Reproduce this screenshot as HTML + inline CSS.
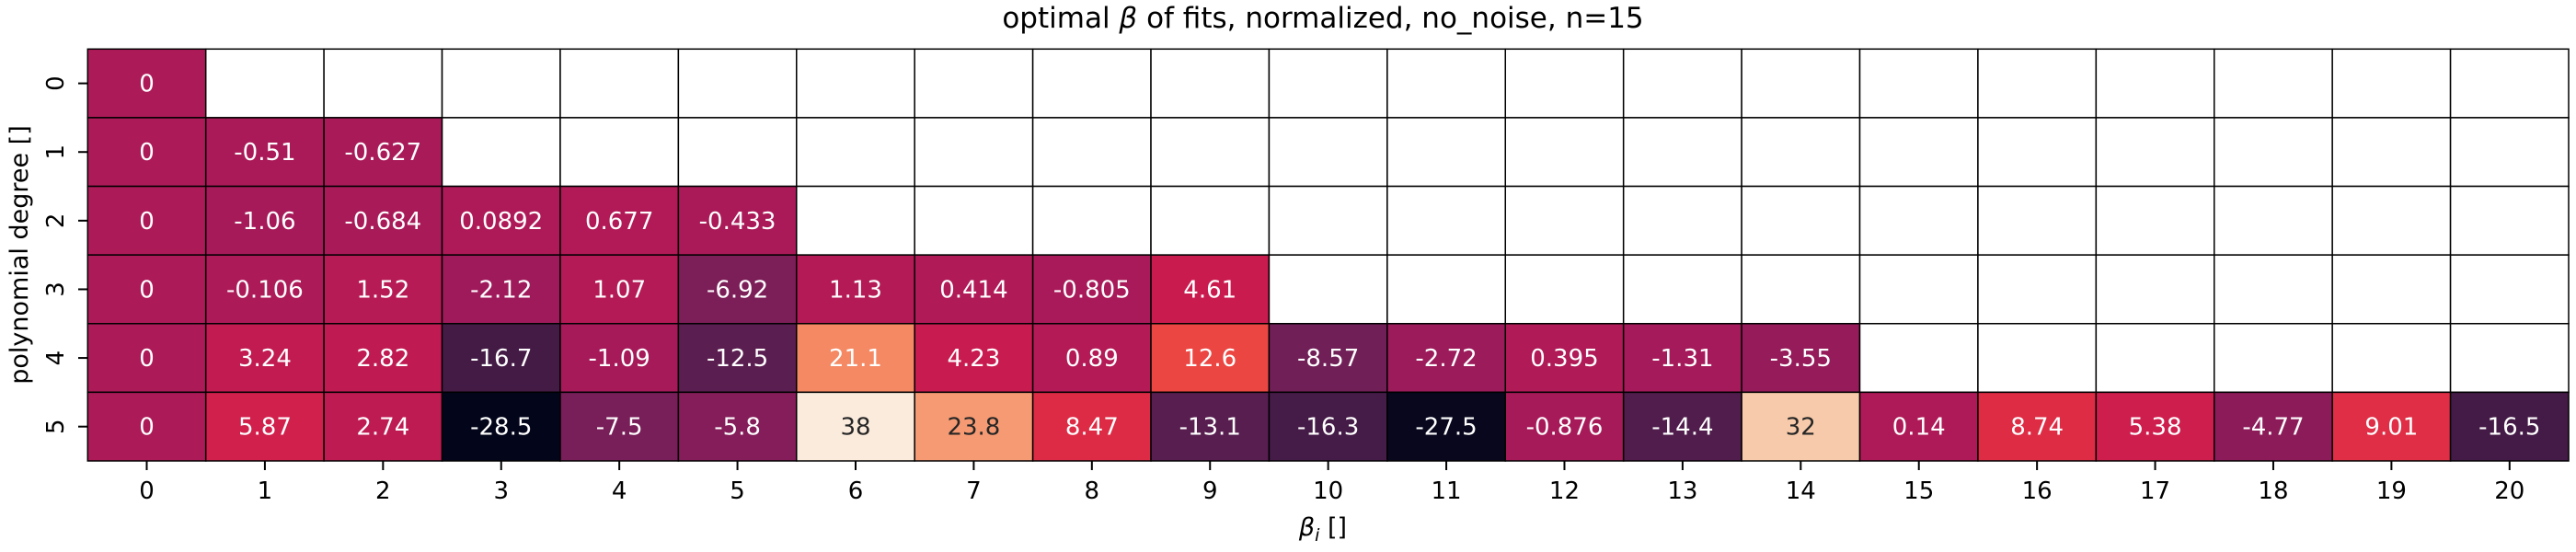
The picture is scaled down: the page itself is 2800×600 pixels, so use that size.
<!DOCTYPE html>
<html><head><meta charset="utf-8"><style>
body{margin:0;background:#fff}
svg{display:block;font-family:"DejaVu Sans","Liberation Sans",sans-serif}
</style></head><body>
<svg id="chart" width="2800" height="600" xmlns="http://www.w3.org/2000/svg">
<text x="1438" y="30" text-anchor="middle" font-size="31">optimal <tspan font-style="italic">β</tspan> of fits, normalized, no_noise, n=15</text>
<text x="1438" y="582" text-anchor="middle" font-size="27"><tspan font-style="italic">β</tspan><tspan font-style="italic" font-size="19" dy="6">i</tspan><tspan dy="-6"> []</tspan></text>
<text transform="translate(30,277) rotate(-90)" text-anchor="middle" font-size="27">polynomial degree []</text>
<g id="cells"></g><g id="ticks"></g>
</svg>
<script>
const rowLabels = ["0","1","2","3","4","5"];
const colLabels = ["0","1","2","3","4","5","6","7","8","9","10","11","12","13","14","15","16","17","18","19","20"];
const row0 = [0];
const row1 = [0,-0.51,-0.627];
const row2 = [0,-1.06,-0.684,0.0892,0.677,-0.433];
const row3 = [0,-0.106,1.52,-2.12,1.07,-6.92,1.13,0.414,-0.805,4.61];
const row4 = [0,3.24,2.82,-16.7,-1.09,-12.5,21.1,4.23,0.89,12.6,-8.57,-2.72,0.395,-1.31,-3.55];
const row5 = [0,5.87,2.74,-28.5,-7.5,-5.8,38,23.8,8.47,-13.1,-16.3,-27.5,-0.876,-14.4,32,0.14,8.74,5.38,-4.77,9.01,-16.5];
const rows = [row0,row1,row2,row3,row4,row5];

const L=95.3, T=53.3, CW=(2792-95.3)/21, RH=(501-53.3)/6;
const xPos = i => L + i*CW;
const yPos = j => T + j*RH;
const all = rows.flat();
const vmin = Math.min(...all), vmax = Math.max(...all);
const stops=[[0,[3,5,26]],[.1,[35,19,50]],[.2,[76,29,75]],[.3,[112,31,87]],[.4,[161,26,91]],[.5,[203,27,79]],[.55,[220,41,70]],[.6,[232,58,65]],[.65,[240,90,67]],[.7,[243,118,81]],[.8,[246,160,120]],[.9,[246,198,165]],[1,[250,235,221]]];
function cmap(t){t=Math.max(0,Math.min(1,t));for(let k=1;k<stops.length;k++){if(t<=stops[k][0]){const a=stops[k-1],b=stops[k],f=(t-a[0])/(b[0]-a[0]);return a[1].map((v,i)=>Math.round(v+(b[1][i]-v)*f));}}return stops[stops.length-1][1];}
function lum(c){const r=c.map(v=>{v/=255;return v<=0.03928?v/12.92:Math.pow((v+0.055)/1.055,2.4)});return 0.2126*r[0]+0.7152*r[1]+0.0722*r[2];}
const NS="http://www.w3.org/2000/svg";
const cells=document.getElementById('cells'), ticks=document.getElementById('ticks');
function mk(tag,attrs,parent){const e=document.createElementNS(NS,tag);for(const k in attrs)e.setAttribute(k,attrs[k]);parent.appendChild(e);return e;}
for(let j=0;j<rowLabels.length;j++){
  for(let i=0;i<colLabels.length;i++){
    const v = rows[j][i];
    const has = v!==undefined;
    const c = has?cmap((v-vmin)/(vmax-vmin)):[255,255,255];
    const r = mk('rect',{x:xPos(i),y:yPos(j),width:CW,height:RH,fill:`rgb(${c})`,stroke:'#000','stroke-width':1.5},cells);
    
    
    if(has){
      const t = mk('text',{x:xPos(i)+CW/2,y:yPos(j)+RH/2+9,'text-anchor':'middle','font-size':26,fill:lum(c)>0.408?'#262626':'#fff'},cells);
      t.textContent = String(v);
      
      
    }
  }
}
colLabels.forEach((s,i)=>{
  const x=xPos(i)+CW/2;
  const tk=mk('line',{x1:x,x2:x,y1:501,y2:511,stroke:'#000','stroke-width':2},ticks);
  
  
  const t=mk('text',{x:x,y:542,'text-anchor':'middle','font-size':26},ticks);
  t.textContent=s;
  
  
});
rowLabels.forEach((s,j)=>{
  const y=yPos(j)+RH/2;
  const tk=mk('line',{x1:85,x2:95.3,y1:y,y2:y,stroke:'#000','stroke-width':2},ticks);
  
  
  const t=mk('text',{transform:`translate(69,${y}) rotate(-90)`,'text-anchor':'middle','font-size':26},ticks);
  t.textContent=s;
  
  
});
</script>
</body></html>
